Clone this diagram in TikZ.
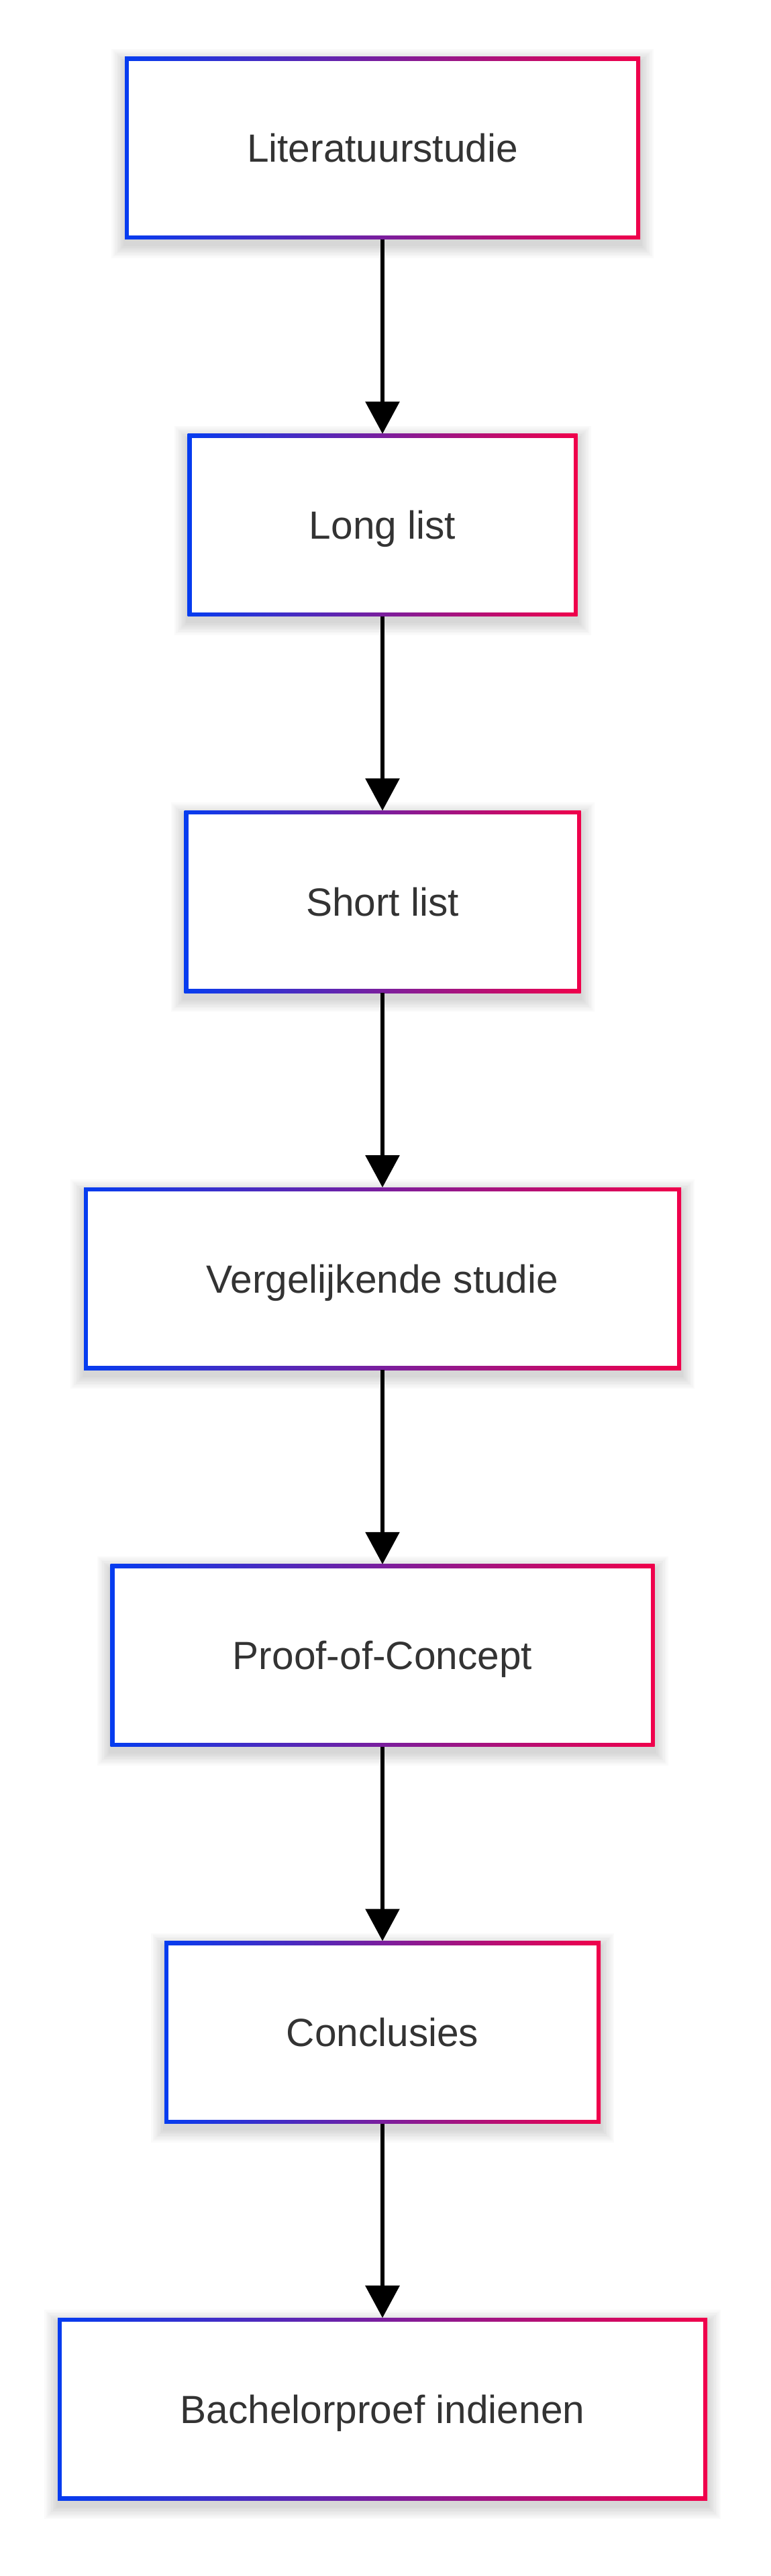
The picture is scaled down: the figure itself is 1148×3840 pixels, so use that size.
\documentclass[tikz,border=0pt]{standalone}
\usepackage{fontspec}
\setmainfont{Liberation Sans}
\usetikzlibrary{arrows.meta}
\definecolor{gblue}{RGB}{5,60,240}
\definecolor{gred}{RGB}{240,0,75}
\definecolor{txt}{RGB}{51,51,51}
\tikzset{
  flowarrow/.style={draw=black, line width=1.5pt, -{Triangle[length=12pt 0 0,width=12.5pt 0 0]}},
  boxlabel/.style={inner sep=0pt, outer sep=0pt, text=txt, text height=10.5pt, text depth=0pt,
    font=\fontsize{14.65pt}{17pt}\selectfont},
  boxshadow/.style={fill=black, opacity=0.02},
  boxborder/.style={left color=gblue, right color=gred},
}
\newcommand{\flowbox}[4]{% name, top y (px), width (px), text
  \pgfmathsetmacro{\bl}{570-#3/2}
  \pgfmathsetmacro{\br}{570+#3/2}
  \pgfmathsetmacro{\bt}{#2}
  \pgfmathsetmacro{\bb}{#2+272}
  \foreach \s in {1,...,8} {
    \fill[boxshadow] (\bl-2.5*\s, \bt-2.5*\s+8) rectangle (\br+2.5*\s, \bb+2.5*\s+8);
  }
  \shade[boxborder] (\bl,\bt) rectangle (\br,\bb);
  \fill[white] (\bl+6,\bt+6) rectangle (\br-6,\bb-6);
  \node[boxlabel, minimum width=#3*0.25pt, minimum height=68pt] (#1) at (570,\bt+136) {#4};
}
\begin{document}
\begin{tikzpicture}[x=0.25pt, y=-0.25pt]
  \useasboundingbox (0,0) rectangle (1148,3840);
  \fill[white] (0,0) rectangle (1148,3840);
  \flowbox{lit}{85}{768}{Literatuurstudie}
  \flowbox{long}{646.7}{581}{Long list}
  \flowbox{short}{1208.4}{591}{Short list}
  \flowbox{verg}{1770.1}{890}{Vergelijkende studie}
  \flowbox{poc}{2331.8}{811}{Proof-of-Concept}
  \flowbox{concl}{2893.5}{650}{Conclusies}
  \flowbox{bach}{3455.2}{968}{Bachelorproef indienen}
  \draw[flowarrow] (lit.south) -- (long.north);
  \draw[flowarrow] (long.south) -- (short.north);
  \draw[flowarrow] (short.south) -- (verg.north);
  \draw[flowarrow] (verg.south) -- (poc.north);
  \draw[flowarrow] (poc.south) -- (concl.north);
  \draw[flowarrow] (concl.south) -- (bach.north);
\end{tikzpicture}
\end{document}
